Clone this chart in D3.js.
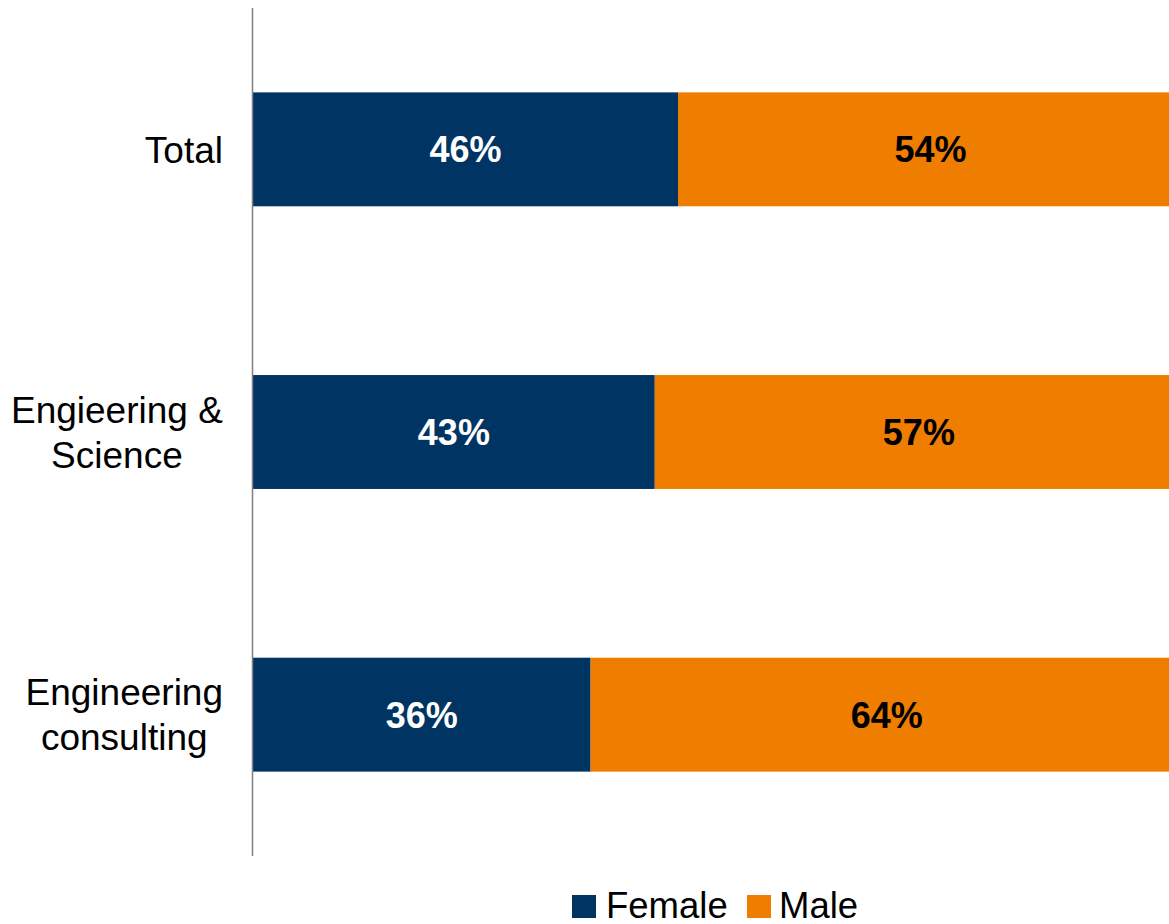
<!DOCTYPE html>
<html>
<head>
<meta charset="utf-8">
<script src="https://cdn.jsdelivr.net/npm/d3@7"></script>
<style>
  body { margin: 0; background: #fff; overflow: hidden; }
  text { font-family: "Liberation Sans", Arial, sans-serif; }
</style>
</head>
<body>
<script>
const categories = [['Total'], ['Engieering &', 'Science'], ['Engineering', 'consulting']];
const female = [45.7, 43.2, 36.3];
const male = [54.3, 56.8, 63.7];
const seriesNames = ['Female', 'Male'];

const width = 1169;
const height = 924;
const colors = { Female: '#003462', Male: '#EF7D00' };

const data = categories.map((c, i) => ({ key: i, label: c, Female: female[i], Male: male[i] }));

// plot area runs slightly past the right edge of the picture
const x = d3.scaleLinear()
  .domain([0, 100])
  .range([253, 1183]);
const y = d3.scaleBand()
  .domain(data.map(d => d.key))
  .range([8, 856])
  .paddingInner(0.597)
  .paddingOuter(0.2985);

const svg = d3.select(document.body).append('svg')
  .attr('width', width)
  .attr('height', height)
  .style('display', 'block');

const stack = d3.stack().keys(seriesNames)(data);

const layers = svg.selectAll('g.layer')
  .data(stack)
  .enter().append('g')
  .attr('class', 'layer')
  .attr('fill', s => colors[s.key]);

layers.selectAll('rect')
  .data(s => s)
  .enter().append('rect')
  .attr('x', d => x(d[0]))
  .attr('y', d => y(d.data.key))
  .attr('width', d => x(d[1]) - x(d[0]))
  .attr('height', y.bandwidth());

layers.selectAll('text')
  .data(s => s.map(d => ({ series: s.key, d })))
  .enter().append('text')
  .attr('x', o => (x(o.d[0]) + x(o.d[1])) / 2)
  .attr('y', o => y(o.d.data.key) + y.bandwidth() / 2)
  .attr('dy', '0.36em')
  .attr('text-anchor', 'middle')
  .attr('font-size', 36)
  .attr('font-weight', 'bold')
  .attr('fill', o => o.series === 'Female' ? '#fff' : '#000')
  .text(o => Math.round(o.d[1] - o.d[0]) + '%');

// vertical axis line
svg.append('line')
  .attr('x1', 252.5).attr('x2', 252.5)
  .attr('y1', 8).attr('y2', 856)
  .attr('stroke', '#7f7f7f')
  .attr('stroke-width', 1.5);

// category labels: block right-aligned, lines centred within block
const labelRight = 223;
const lineH = 45;
const fontSize = 37;
data.forEach(d => {
  const cy = y(d.key) + y.bandwidth() / 2;
  const n = d.label.length;
  const t = svg.append('text')
    .attr('font-size', fontSize)
    .attr('fill', '#000')
    .attr('text-anchor', 'middle');
  d.label.forEach((line, j) => {
    t.append('tspan')
      .attr('x', 0)
      .attr('y', cy + (j - (n - 1) / 2) * lineH)
      .attr('dy', '0.36em')
      .text(line);
  });
  const bw = t.node().getBBox().width;
  t.attr('transform', `translate(${labelRight - bw / 2},0)`);
});

// legend
const legend = svg.append('g');
const legendItems = [
  { name: 'Female', sx: 572, tx: 606 },
  { name: 'Male', sx: 747, tx: 779 }
];
legendItems.forEach(it => {
  legend.append('rect')
    .attr('x', it.sx).attr('y', 895)
    .attr('width', 24).attr('height', 23)
    .attr('fill', colors[it.name]);
  legend.append('text')
    .attr('x', it.tx).attr('y', 918)
    .attr('font-size', 36.5)
    .attr('fill', '#000')
    .text(it.name);
});
</script>
</body>
</html>
